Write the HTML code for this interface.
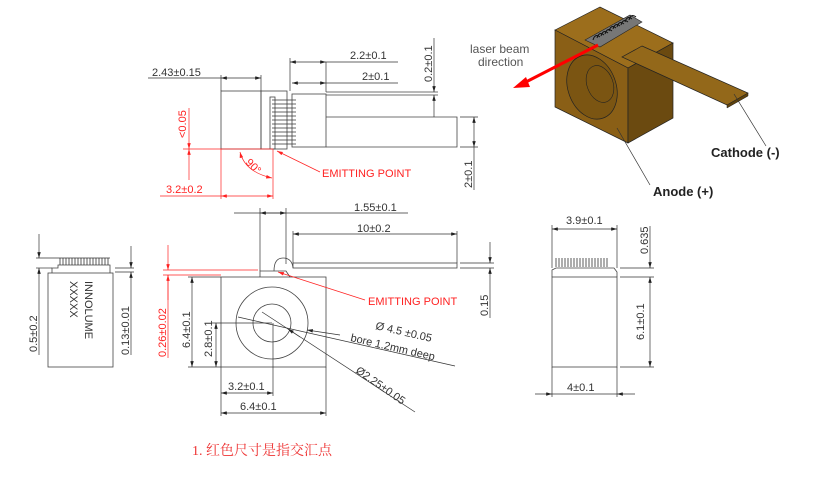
<!DOCTYPE html>
<html><head><meta charset="utf-8"><style>
html,body{margin:0;padding:0;background:#fff;}
svg{display:block;font-family:"Liberation Sans",sans-serif;}
.l{stroke:#444;stroke-width:0.8;fill:none}
.d{stroke:#333;stroke-width:0.7;fill:none}
.r{stroke:#f22;stroke-width:0.7;fill:none}
.t{font-size:11px;fill:#333}
.rt{font-size:11px;fill:#f22}
</style></head><body>
<svg width="826" height="487" viewBox="0 0 826 487" xmlns="http://www.w3.org/2000/svg">
<defs>
<marker id="a" viewBox="0 0 10 6" refX="10" refY="3" markerWidth="9" markerHeight="5" orient="auto-start-reverse"><path d="M0,0L10,3L0,6z" fill="#222"/></marker>
<marker id="ar" viewBox="0 0 10 6" refX="10" refY="3" markerWidth="9" markerHeight="5" orient="auto-start-reverse"><path d="M0,0L10,3L0,6z" fill="#f22"/></marker>
</defs>

<!-- TOP VIEW -->
<rect class="l" x="221" y="91" width="40" height="58"/>
<rect class="l" x="261" y="91" width="26" height="58"/>
<rect class="l" x="270" y="97" width="5" height="52"/>
<g stroke="#333" stroke-width="0.8">
<line x1="272" y1="100" x2="296" y2="100"/><line x1="272" y1="104" x2="296" y2="104"/><line x1="272" y1="108" x2="296" y2="108"/><line x1="272" y1="112" x2="296" y2="112"/><line x1="272" y1="116" x2="296" y2="116"/><line x1="272" y1="120" x2="296" y2="120"/><line x1="272" y1="124" x2="296" y2="124"/><line x1="272" y1="128" x2="296" y2="128"/><line x1="272" y1="132" x2="296" y2="132"/><line x1="272" y1="136" x2="296" y2="136"/><line x1="272" y1="140" x2="296" y2="140"/><line x1="272" y1="144" x2="296" y2="144"/>
</g>
<rect class="l" x="292" y="94" width="34" height="53"/>
<path class="l" d="M326,92H431M326,95H431M326,117H457V147H326"/>
<text class="t" x="152" y="76">2.43±0.15</text>
<line class="d" x1="148" y1="78" x2="221" y2="78"/>
<line class="d" x1="221" y1="78" x2="261" y2="78" marker-start="url(#a)" marker-end="url(#a)"/>
<line class="d" x1="221" y1="75" x2="221" y2="91"/><line class="d" x1="261" y1="75" x2="261" y2="91"/>
<text class="t" x="350" y="59">2.2±0.1</text>
<line class="d" x1="326" y1="62" x2="398" y2="62"/>
<line class="d" x1="290" y1="62" x2="326" y2="62" marker-start="url(#a)" marker-end="url(#a)"/>
<line class="d" x1="290" y1="58" x2="290" y2="91"/><line class="d" x1="326" y1="62" x2="326" y2="92"/>
<text class="t" x="362" y="80">2±0.1</text>
<line class="d" x1="326" y1="83" x2="398" y2="83"/>
<line class="d" x1="292" y1="83" x2="326" y2="83" marker-start="url(#a)" marker-end="url(#a)"/>
<text class="t" transform="translate(432,82) rotate(-90)">0.2±0.1</text>
<line class="d" x1="434" y1="38" x2="434" y2="92" marker-end="url(#a)"/>
<line class="d" x1="434" y1="117" x2="434" y2="95" marker-end="url(#a)"/>
<line class="d" x1="431" y1="92" x2="438" y2="92"/><line class="d" x1="431" y1="95" x2="438" y2="95"/>
<line class="d" x1="460" y1="117" x2="478" y2="117"/><line class="d" x1="460" y1="147" x2="478" y2="147"/>
<line class="d" x1="474" y1="117" x2="474" y2="147" marker-start="url(#a)" marker-end="url(#a)"/>
<line class="d" x1="474" y1="147" x2="474" y2="190"/>
<text class="t" transform="translate(472,188) rotate(-90)">2±0.1</text>
<text class="rt" transform="translate(186,138) rotate(-90)">&lt;0.05</text>
<line class="r" x1="189" y1="108" x2="189" y2="149" marker-end="url(#ar)"/>
<line class="r" x1="189" y1="180" x2="189" y2="149" marker-end="url(#ar)"/>
<line class="r" x1="183" y1="149" x2="273" y2="149"/>
<line class="r" x1="221" y1="149" x2="221" y2="199"/><line class="r" x1="273" y1="149" x2="273" y2="199"/>
<text class="rt" x="166" y="193">3.2±0.2</text>
<line class="r" x1="160" y1="196" x2="221" y2="196"/>
<line class="r" x1="221" y1="196" x2="273" y2="196" marker-start="url(#ar)" marker-end="url(#ar)"/>
<path class="r" d="M240,152 Q245,172 272,178" marker-start="url(#ar)" marker-end="url(#ar)"/>
<text class="rt" transform="translate(245,163) rotate(45)" font-size="10">90°</text>
<line class="r" x1="320" y1="172" x2="277" y2="151" marker-end="url(#ar)"/>
<text class="rt" x="322" y="177" font-size="10">EMITTING POINT</text>

<!-- FRONT VIEW -->
<rect class="l" x="221" y="277" width="105" height="90"/>
<path class="l" d="M260,277V271H286L290,277"/>
<path class="l" d="M274,271Q274,258 283,258Q292,258 293,268"/>
<rect class="l" x="293" y="263" width="164" height="5"/>
<circle class="l" cx="272" cy="323" r="36"/>
<circle class="l" cx="272" cy="323" r="19"/>
<text class="t" x="354" y="211">1.55±0.1</text>
<line class="d" x1="234" y1="213" x2="408" y2="213"/>
<line class="d" x1="260" y1="213" x2="286" y2="213" marker-start="url(#a)" marker-end="url(#a)"/>
<line class="d" x1="260" y1="208" x2="260" y2="271"/><line class="d" x1="286" y1="208" x2="286" y2="264"/>
<text class="t" x="357" y="232">10±0.2</text>
<line class="d" x1="293" y1="234" x2="457" y2="234" marker-start="url(#a)" marker-end="url(#a)"/>
<line class="d" x1="293" y1="231" x2="293" y2="263"/><line class="d" x1="457" y1="231" x2="457" y2="263"/>
<line class="d" x1="460" y1="263" x2="494" y2="263"/><line class="d" x1="460" y1="268" x2="494" y2="268"/>
<line class="d" x1="490" y1="242" x2="490" y2="263" marker-end="url(#a)"/>
<line class="d" x1="490" y1="318" x2="490" y2="268" marker-end="url(#a)"/>
<text class="t" transform="translate(488,316) rotate(-90)">0.15</text>
<line class="d" x1="188" y1="277" x2="221" y2="277"/><line class="d" x1="188" y1="367" x2="221" y2="367"/>
<line class="d" x1="192" y1="277" x2="192" y2="367" marker-start="url(#a)" marker-end="url(#a)"/>
<text class="t" transform="translate(190,348) rotate(-90)">6.4±0.1</text>
<line class="d" x1="212" y1="323" x2="272" y2="323"/>
<line class="d" x1="216" y1="323" x2="216" y2="367" marker-start="url(#a)" marker-end="url(#a)"/>
<text class="t" transform="translate(212,357) rotate(-90)">2.8±0.1</text>
<line class="d" x1="273" y1="323" x2="273" y2="396"/>
<line class="d" x1="221" y1="367" x2="221" y2="416"/><line class="d" x1="326" y1="367" x2="326" y2="416"/>
<text class="t" x="228" y="390">3.2±0.1</text>
<line class="d" x1="221" y1="393" x2="273" y2="393" marker-start="url(#a)" marker-end="url(#a)"/>
<text class="t" x="240" y="410">6.4±0.1</text>
<line class="d" x1="221" y1="413" x2="326" y2="413" marker-start="url(#a)" marker-end="url(#a)"/>
<line class="d" x1="238" y1="317" x2="455" y2="366"/>
<line class="d" x1="340" y1="335" x2="307" y2="330" marker-end="url(#a)"/>
<text class="t" transform="translate(375,329) rotate(13)">Ø 4.5 ±0.05</text>
<text class="t" transform="translate(350,341) rotate(13)">bore 1.2mm deep</text>
<line class="d" x1="262" y1="312" x2="415" y2="412"/>
<line class="d" x1="300" y1="337" x2="288" y2="329" marker-end="url(#a)"/>
<text class="t" transform="translate(355,372) rotate(35)">Ø2.25±0.05</text>
<line class="r" x1="163" y1="270" x2="258" y2="270"/><line class="r" x1="163" y1="275" x2="221" y2="275"/>
<line class="r" x1="168" y1="245" x2="168" y2="270" marker-end="url(#ar)"/>
<line class="r" x1="168" y1="300" x2="168" y2="275" marker-end="url(#ar)"/>
<line class="r" x1="168" y1="275" x2="168" y2="358"/>
<text class="rt" transform="translate(166,357) rotate(-90)">0.26±0.02</text>
<line class="r" x1="365" y1="300" x2="278" y2="272" marker-end="url(#ar)"/>
<text class="rt" x="368" y="305" font-size="10">EMITTING POINT</text>

<!-- LEFT SIDE VIEW -->
<rect class="l" x="48" y="273" width="65" height="94"/>
<path class="l" d="M52,273V268H58V265H110V273"/>
<g stroke="#333" stroke-width="0.8"><path d="M60,258V265M63,258V265M66,258V265M69,258V265M72,258V265M75,258V265M78,258V265M81,258V265M84,258V265M87,258V265M90,258V265M93,258V265M96,258V265M99,258V265M102,258V265M105,258V265M108,258V265"/></g>
<line class="d" x1="36" y1="258" x2="110" y2="258"/><line class="d" x1="36" y1="268" x2="52" y2="268"/>
<line class="d" x1="39" y1="234" x2="39" y2="258" marker-end="url(#a)"/>
<line class="d" x1="39" y1="355" x2="39" y2="268" marker-end="url(#a)"/>
<text class="t" transform="translate(37,352) rotate(-90)">0.5±0.2</text>
<line class="d" x1="115" y1="268" x2="134" y2="268"/><line class="d" x1="115" y1="272" x2="134" y2="272"/>
<line class="d" x1="131" y1="246" x2="131" y2="268" marker-end="url(#a)"/>
<line class="d" x1="131" y1="355" x2="131" y2="272" marker-end="url(#a)"/>
<text class="t" transform="translate(129,355) rotate(-90)">0.13±0.01</text>
<text class="t" font-size="13" transform="translate(85,281) rotate(90)">INNOLUME</text>
<text class="t" font-size="13" transform="translate(70,281) rotate(90)">XXXXX</text>

<!-- RIGHT SIDE VIEW -->
<rect class="l" x="552" y="277" width="65" height="90"/>
<path class="l" d="M552,277V270L556,268H614L617,272V277"/>
<g stroke="#333" stroke-width="0.8"><path d="M556,258V267M559,258V267M562,258V267M565,258V267M568,258V267M571,258V267M574,258V267M577,258V267M580,258V267M583,258V267M586,258V267M589,258V267M592,258V267M595,258V267M598,258V267M601,258V267M604,258V267M607,258V267"/></g>
<line class="d" x1="552" y1="225" x2="552" y2="268"/><line class="d" x1="617" y1="225" x2="617" y2="268"/>
<text class="t" x="566" y="224">3.9±0.1</text>
<line class="d" x1="552" y1="229" x2="617" y2="229" marker-start="url(#a)" marker-end="url(#a)"/>
<line class="d" x1="620" y1="268" x2="654" y2="268"/><line class="d" x1="620" y1="277" x2="654" y2="277"/><line class="d" x1="620" y1="367" x2="654" y2="367"/>
<line class="d" x1="650" y1="226" x2="650" y2="268" marker-end="url(#a)"/>
<line class="d" x1="650" y1="277" x2="650" y2="367" marker-start="url(#a)" marker-end="url(#a)"/>
<text class="t" transform="translate(648,254) rotate(-90)">0.635</text>
<text class="t" transform="translate(644,340) rotate(-90)">6.1±0.1</text>
<line class="d" x1="552" y1="367" x2="552" y2="397"/><line class="d" x1="617" y1="367" x2="617" y2="397"/>
<text class="t" x="567" y="391">4±0.1</text>
<line class="d" x1="535" y1="394" x2="552" y2="394" marker-end="url(#a)"/>
<line class="d" x1="635" y1="394" x2="617" y2="394" marker-end="url(#a)"/>
<line class="d" x1="552" y1="394" x2="617" y2="394"/>

<!-- 3D -->
<path d="M555,30L600,7L673,43L628,68Z" fill="#9c6e1c" stroke="#222" stroke-width="0.7"/>
<path d="M555,30L628,68L628,143L555,107Z" fill="#8a5f16" stroke="#222" stroke-width="0.7"/>
<path d="M628,68L673,43L673,118L628,143Z" fill="#6b4a10" stroke="#222" stroke-width="0.7"/>
<ellipse cx="592" cy="87" rx="24" ry="33" transform="rotate(-20 592 87)" fill="#7b5512" stroke="#222" stroke-width="0.7"/>
<ellipse cx="600" cy="84" rx="13" ry="19" transform="rotate(-20 600 84)" fill="none" stroke="#222" stroke-width="0.6"/>
<path d="M642,46L748,93L727,105L622,57Z" fill="#93681a" stroke="#222" stroke-width="0.7"/>
<path d="M727,105L748,93L748,96L727,108Z" fill="#5e420c" stroke="#222" stroke-width="0.5"/>
<path d="M585,40L630,15L642,22L600,47Z" fill="#777" stroke="#222" stroke-width="0.6"/>
<g stroke="#111" stroke-width="1" fill="none"><path d="M593,40q2,-7 7,-3M597,38q2,-7 7,-3M601,36q2,-7 7,-3M605,34q2,-7 7,-3M609,31q2,-7 7,-3M613,29q2,-7 7,-3M617,27q2,-7 7,-3M621,25q2,-7 7,-3M625,22q2,-7 7,-3M629,20q2,-7 7,-3"/></g>
<line x1="598" y1="45" x2="522" y2="84" stroke="#f00" stroke-width="3"/>
<path d="M513,88L526,77L530,87Z" fill="#f00"/>
<text x="470" y="53" font-size="12" fill="#555">laser beam</text>
<text x="478" y="66" font-size="12" fill="#555">direction</text>
<line class="d" x1="734" y1="94" x2="766" y2="146"/>
<line class="d" x1="617" y1="128" x2="650" y2="185"/>
<text x="711" y="157" font-size="13" font-weight="bold" fill="#222">Cathode (-)</text>
<text x="653" y="196" font-size="13" font-weight="bold" fill="#222">Anode (+)</text>

<text x="192" y="455" font-size="14" fill="#e33" font-family="'Liberation Serif','Noto Serif CJK SC',serif">1. 红色尺寸是指交汇点</text>
</svg>
</body></html>
